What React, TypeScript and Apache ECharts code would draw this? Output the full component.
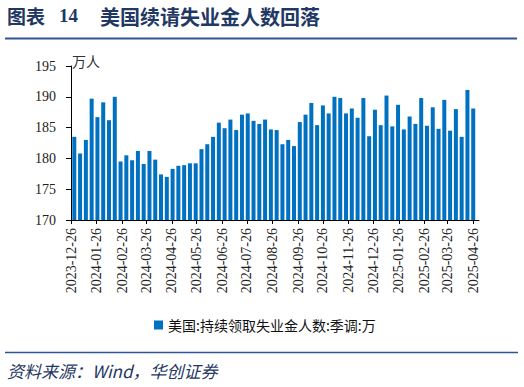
import React, { useEffect, useRef } from "react";
import * as echarts from "echarts";

// Week-ending dates (weekly data)
const weekDates: string[] = [
  "2023-12-30",
  "2024-01-06", "2024-01-13", "2024-01-20", "2024-01-27",
  "2024-02-03", "2024-02-10", "2024-02-17", "2024-02-24",
  "2024-03-02", "2024-03-09", "2024-03-16", "2024-03-23", "2024-03-30",
  "2024-04-06", "2024-04-13", "2024-04-20", "2024-04-27",
  "2024-05-04", "2024-05-11", "2024-05-18", "2024-05-25",
  "2024-06-01", "2024-06-08", "2024-06-15", "2024-06-22", "2024-06-29",
  "2024-07-06", "2024-07-13", "2024-07-20", "2024-07-27",
  "2024-08-03", "2024-08-10", "2024-08-17", "2024-08-24", "2024-08-31",
  "2024-09-07", "2024-09-14", "2024-09-21", "2024-09-28",
  "2024-10-05", "2024-10-12", "2024-10-19", "2024-10-26",
  "2024-11-02", "2024-11-09", "2024-11-16", "2024-11-23", "2024-11-30",
  "2024-12-07", "2024-12-14", "2024-12-21", "2024-12-28",
  "2025-01-04", "2025-01-11", "2025-01-18", "2025-01-25",
  "2025-02-01", "2025-02-08", "2025-02-15", "2025-02-22",
  "2025-03-01", "2025-03-08", "2025-03-15", "2025-03-22", "2025-03-29",
  "2025-04-05", "2025-04-12", "2025-04-19", "2025-04-26",
];

// 美国:持续领取失业金人数:季调 (万人)
const claims: number[] = [
  183.5, 180.8, 183.0, 189.7, 186.7, 189.1, 186.2, 190.0, 179.5, 180.5,
  179.7, 181.2, 179.1, 181.2, 179.8, 177.4, 177.0, 178.3, 178.8, 178.9,
  179.2, 179.2, 181.5, 182.3, 183.5, 185.8, 184.9, 186.3, 184.6, 187.1,
  187.3, 186.1, 185.6, 186.3, 184.7, 184.6, 182.3, 183.0, 182.0, 185.9,
  187.1, 189.0, 185.4, 188.6, 187.3, 190.0, 189.8, 187.3, 188.1, 186.6,
  189.8, 183.6, 187.9, 185.4, 190.2, 185.2, 188.7, 184.7, 186.8, 185.6,
  189.8, 185.3, 188.3, 184.8, 189.5, 184.5, 188.0, 183.5, 191.1, 188.1,
];

// X-axis tick labels
const tickDates: string[] = [
  "2023-12-26", "2024-01-26", "2024-02-26", "2024-03-26", "2024-04-26",
  "2024-05-26", "2024-06-26", "2024-07-26", "2024-08-26", "2024-09-26",
  "2024-10-26", "2024-11-26", "2024-12-26", "2025-01-26", "2025-02-26",
  "2025-03-26", "2025-04-26",
];

const axisStart = "2023-12-26";
const axisEnd = "2025-05-03";

const seriesName = "美国:持续领取失业金人数:季调:万";

function toMs(d: string): number {
  const [y, m, day] = d.split("-").map(Number);
  return Date.UTC(y, m - 1, day);
}
function fmt(ms: number): string {
  const d = new Date(ms);
  const p = (n: number) => (n < 10 ? "0" + n : "" + n);
  return d.getUTCFullYear() + "-" + p(d.getUTCMonth() + 1) + "-" + p(d.getUTCDate());
}

const SERIF = "'Liberation Serif', 'Times New Roman', serif";
const CJK = "'Noto Sans CJK SC', 'Noto Sans', sans-serif";

export default function App() {
  const ref = useRef<HTMLDivElement>(null);

  useEffect(() => {
    if (!ref.current) return;
    const chart = echarts.init(ref.current, undefined, { renderer: "svg" });
    const tickMs = tickDates.map(toMs);
    const option: any = {
      animation: false,
      backgroundColor: "#ffffff",
      grid: { left: 71, right: 45, top: 66, bottom: 167 },
      xAxis: {
        type: "value",
        min: toMs(axisStart),
        max: toMs(axisEnd),
        axisLine: { show: true, lineStyle: { color: "#000", width: 1 } },
        axisTick: {
          show: true,
          length: 4,
          lineStyle: { color: "#000" },
          customValues: tickMs,
        },
        splitLine: { show: false },
        axisLabel: {
          customValues: tickMs,
          rotate: 90,
          margin: 8,
          color: "#222",
          fontFamily: SERIF,
          fontSize: 14,
          formatter: (v: number) => fmt(v),
        },
      },
      yAxis: {
        type: "value",
        min: 170,
        max: 195,
        interval: 5,
        axisLine: { show: true, lineStyle: { color: "#000", width: 1 } },
        axisTick: { show: true, length: 5, lineStyle: { color: "#000" } },
        splitLine: { show: false },
        axisLabel: {
          margin: 15,
          color: "#222",
          fontFamily: SERIF,
          fontSize: 14,
        },
      },
      legend: {
        left: 149,
        top: 313,
        itemWidth: 9,
        itemHeight: 9,
        icon: "rect",
        textStyle: { fontFamily: CJK, fontSize: 14, color: "#111" },
        data: [seriesName],
      },
      series: [
        {
          name: seriesName,
          type: "bar",
          barWidth: 4,
          itemStyle: { color: "#0070C0" },
          data: weekDates.map((d, i) => [toMs(d), claims[i]]),
        },
      ],
      graphic: [
        {
          type: "text",
          left: 7,
          top: 6,
          style: { text: "图表", font: "bold 19px " + CJK, fill: "#1F3864" },
        },
        {
          type: "text",
          left: 59,
          top: 6,
          style: { text: "14", font: "bold 19px " + SERIF, fill: "#1F3864" },
        },
        {
          type: "text",
          left: 100,
          top: 6,
          style: { text: "美国续请失业金人数回落", font: "bold 20px " + CJK, fill: "#1F3864" },
        },
        {
          type: "line",
          shape: { x1: 5, y1: 38.5, x2: 517, y2: 38.5 },
          style: { stroke: "#2F5496", lineWidth: 2 },
        },
        {
          type: "text",
          left: 72,
          top: 54,
          style: { text: "万人", font: "14px " + CJK, fill: "#333" },
        },
        {
          type: "line",
          shape: { x1: 5, y1: 352.5, x2: 518, y2: 352.5 },
          style: { stroke: "#2F5496", lineWidth: 1.5 },
        },
        {
          type: "text",
          left: 7,
          top: 362,
          style: {
            text: "资料来源：Wind，华创证券",
            font: "italic 17px " + CJK,
            fill: "#1F3864",
          },
        },
      ],
    };
    chart.setOption(option);
    return () => chart.dispose();
  }, []);

  return (
    <div
      ref={ref}
      style={{ position: "absolute", left: 0, top: 0, width: 524, height: 387 }}
    />
  );
}
